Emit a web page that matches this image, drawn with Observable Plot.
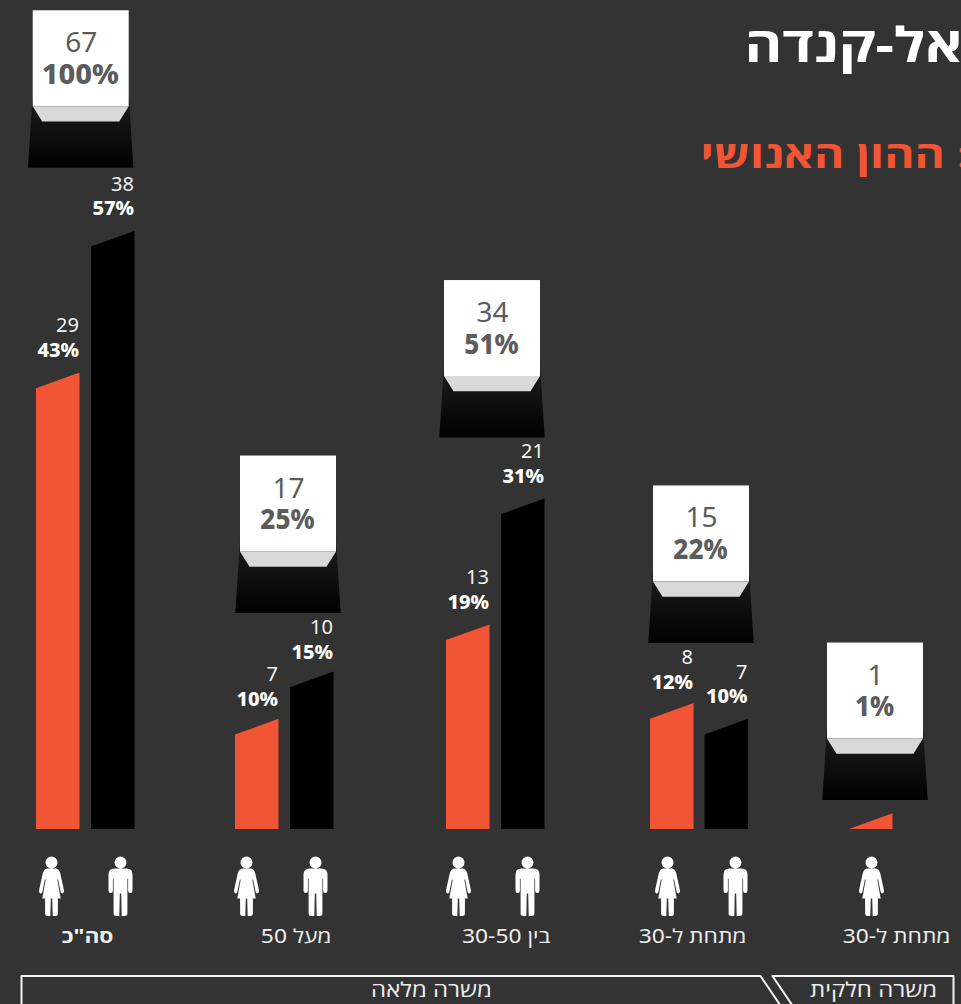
<!DOCTYPE html>
<html lang="he">
<head>
<meta charset="utf-8">
<script src="https://cdn.jsdelivr.net/npm/d3@7"></script>
<script src="https://cdn.jsdelivr.net/npm/@observablehq/plot@0.6"></script>
<style>
html,body{margin:0;padding:0;background:#333;overflow:hidden;width:961px;height:1004px}
</style>
</head>
<body>
<div id="chart"></div>
<script>
// ---------- values ----------
const groups = ['סה"כ', "מעל 50", "בין 30-50", "מתחת ל-30", "מתחת ל-30"];
const women = [29, 7, 13, 8, 1];
const womenPct = [43, 10, 19, 12, 1];
const men = [38, 10, 21, 7, null];
const menPct = [57, 15, 31, 10, null];
const totals = [67, 17, 34, 15, 1];
const totalsPct = [100, 25, 51, 22, 1];
const titleText = "ישראל-קנדה";
const subtitleText = ": ההון האנושי";
const employment = ["משרה מלאה", "משרה חלקית"];

// ---------- layout (in the x scale's units, and in value units for lifts) ----------
const boxCenter = [80.7, 288, 492, 701, 875];
const womanBarLeft = [36, 235, 446, 650, 849];
const manBarLeft = [91, 290, 501, 704.5, null];
const womanIcon = [51, 246, 458, 667, 871];
const manIcon = [120, 315, 527, 735, null];
const labelRight = [113, 331, 550, 746, 950];
const boxLift = [4.01, 3.72, 3.87, 3.82, 0.84];
const womanLabelShift = [0, 2.5, 0, 1.5, 0];
const manLabelShift = [0, 2.5, 0, 0, 0];

const W = 961, H = 1004;
const BASE = 829, UNIT = 15.74;           // baseline pixel, pixels per person
const u = (px) => px / UNIT;              // pixel length -> value units
const Y = (px) => (BASE - px) / UNIT;     // pixel row -> value units
const BAR = 43.5;
const HEBREW_STRETCH = 1.2;               // the reference's Hebrew face is wider than any installed one
const SUBTITLE_STRETCH = 1.25;
const BOX_PCT_SQUEEZE = 0.9;              // two-digit percentages in the boxes are set narrower

const ORANGE = "#f25535", BG = "#333333";
const FONT = '"Noto Sans", "Open Sans", sans-serif';

// ---------- derived tables ----------
const barRows = (vals, lefts) => vals.flatMap((v, i) => v == null ? [] : [
  {g: i, x: lefts[i], b: 0, v: v - 1},
  {g: i, x: lefts[i] + BAR, b: 0, v}
]);
const labelRows = (vals, pcts, lefts, shift) => vals.flatMap((v, i) => v == null || i === 4 ? [] : [{
  x: lefts[i] + BAR - 1, v: v - u(shift[i]), n: String(v), p: pcts[i] + "%"
}]);
const boxes = totals.map((t, i) => {
  const top = Math.max(women[i], men[i] ?? 0);
  return {c: boxCenter[i], bottom: top + boxLift[i], n: String(t), p: totalsPct[i] + "%"};
});
const trap = (topOff, botOff, topHalf, botHalf) => boxes.flatMap((b, g) => [
  {g, y: b.bottom + u(topOff), l: b.c - topHalf, r: b.c + topHalf},
  {g, y: b.bottom + u(botOff), l: b.c - botHalf, r: b.c + botHalf}
]);

// ---------- custom person symbols ----------
const person = (pts) => ({
  draw(ctx, size) {
    const s = Math.sqrt(size / Math.PI) / 30;
    ctx.moveTo(6 * s, -26 * s);
    ctx.arc(0, -26 * s, 6 * s, 0, 2 * Math.PI);
    ctx.closePath();
    pts(s, ctx);
    ctx.closePath();
  }
});
const mirror = (half) => (s, ctx) => {
  const cmd = (c, sign) => {
    if (c.length === 2) ctx.lineTo(sign * c[0] * s, c[1] * s);
    else ctx.quadraticCurveTo(sign * c[0] * s, c[1] * s, sign * c[2] * s, c[3] * s);
  };
  ctx.moveTo(half[0][0] * s, half[0][1] * s);
  half.slice(1).forEach((c) => cmd(c, 1));
  ctx.lineTo(-half[half.length - 1][0] * s, half[half.length - 1][1] * s);
  for (let i = half.length - 1; i > 0; i--) {
    const c = half[i], p = half[i - 1];
    const end = p.length === 2 ? p : [p[2], p[3]];
    if (c.length === 2) ctx.lineTo(-end[0] * s, end[1] * s);
    else ctx.quadraticCurveTo(-c[0] * s, c[1] * s, -end[0] * s, end[1] * s);
  }
};
const manSymbol = person(mirror([
  [0, -20], [6, -20], [12, -20, 12, -14], [12, 2], [12, 4.5, 9.7, 4.5], [7.6, 4.5, 7.6, 2],
  [7.6, -9.5], [6.9, -9.5], [6.9, 25], [6.9, 27.5, 4, 27.5], [1.2, 27.5], [0.7, 5], [0, 5]
]));
const womanSymbol = person(mirror([
  [0, -20], [3.5, -20], [7.5, -20, 8.8, -15], [12.3, 1], [13, 4.5, 10.8, 5], [9.4, 5.2, 9, 2.8],
  [6.6, -9], [5.8, -9], [9.2, 10], [6.4, 10], [6.4, 25], [6.4, 27.5, 4, 27.5], [1.2, 27.5], [0.7, 10], [0, 10]
]));

// ---------- gradient definition ----------
const gradient = () => {
  const defs = d3.create("svg:defs");
  const g = defs.append("linearGradient").attr("id", "shade").attr("x1", 0).attr("x2", 0).attr("y1", 0).attr("y2", 1);
  g.append("stop").attr("offset", "0%").attr("stop-color", "#1f1f1f");
  g.append("stop").attr("offset", "100%").attr("stop-color", "#000000");
  return defs.node();
};

const onlyDefined = (arr) => arr.map((x, i) => ({x, i})).filter((d) => d.x != null);
const textBase = {fontFamily: FONT, lineAnchor: "middle"};

const chart = Plot.plot({
  width: W, height: H,
  marginTop: 0, marginRight: 0, marginBottom: 0, marginLeft: 0,
  style: {background: BG, direction: "rtl", fontFamily: FONT, overflow: "hidden"},
  x: {domain: [0, W], range: [0, W], axis: null},
  y: {domain: [Y(H), Y(0)], range: [H, 0], axis: null},
  marks: [
    gradient,
    // titles
    Plot.text([titleText], {...textBase, text: (d) => d, x: () => 744, y: () => Y(46), textAnchor: "end",
      fontSize: 48, fontWeight: 700, fill: "#ffffff"}),
    Plot.text([subtitleText], {...textBase, text: (d) => d, x: () => 700, y: () => Y(156), textAnchor: "end",
      fontSize: 37, fontWeight: 700, fill: ORANGE}),
    // bars
    Plot.areaY(barRows(women, womanBarLeft), {x: "x", y1: "b", y2: "v", z: "g", fill: ORANGE, curve: "linear"}),
    Plot.areaY(barRows(men, manBarLeft), {x: "x", y1: "b", y2: "v", z: "g", fill: "#000000", curve: "linear"}),
    // bar labels
    ...[labelRows(women, womenPct, womanBarLeft, womanLabelShift), labelRows(men, menPct, manBarLeft, manLabelShift)].flatMap((rows) => [
      Plot.text(rows, {...textBase, x: "x", y: (d) => d.v + u(47), text: "n", textAnchor: "start", fontSize: 20, fill: "#f2f2f2"}),
      Plot.text(rows, {...textBase, x: "x", y: (d) => d.v + u(22.5), text: "p", textAnchor: "start", fontSize: 20, fontWeight: 800, fill: "#ffffff"})
    ]),
    // total boxes
    Plot.areaX(trap(74, 0, 48, 52.7), {y: "y", x1: "l", x2: "r", z: "g", fill: "url(#shade)", curve: "linear"}),
    Plot.rect(boxes, {x1: (d) => d.c - 48, x2: (d) => d.c + 48, y1: (d) => d.bottom + u(61.5), y2: (d) => d.bottom + u(157.5), fill: "#ffffff"}),
    Plot.areaX(trap(61.5, 46.3, 48, 38.5), {y: "y", x1: "l", x2: "r", z: "g", fill: "#d9d9d9", curve: "linear"}),
    Plot.text(boxes, {...textBase, x: "c", y: (d) => d.bottom + u(125), text: "n", textAnchor: "middle", fontSize: 28, fill: "#5c5c5c"}),
    Plot.text(boxes, {...textBase, x: (d) => d.c - 1, y: (d) => d.bottom + u(93.5), text: "p", textAnchor: "middle", fontSize: 29, fontWeight: 800, fill: "#5c5c5c"}),
    // people
    Plot.dot(onlyDefined(womanIcon), {x: "x", y: () => Y(888), r: 30, symbol: womanSymbol, fill: "#ffffff", stroke: "none"}),
    Plot.dot(onlyDefined(manIcon), {x: "x", y: () => Y(888), r: 30, symbol: manSymbol, fill: "#ffffff", stroke: "none"}),
    // category labels
    Plot.text(groups.map((t, i) => ({t, i})).filter((d) => d.i === 0), {...textBase, text: "t", x: (d) => labelRight[d.i], y: () => Y(936), textAnchor: "start",
      fontSize: 19, fontWeight: 700, fill: "#eeeeee"}),
    Plot.text(groups.map((t, i) => ({t, i})).filter((d) => d.i > 0), {...textBase, text: "t", x: (d) => labelRight[d.i], y: () => Y(936), textAnchor: "start",
      fontSize: 19, fill: "#eeeeee"}),
    // employment tabs
    Plot.line([{x: 21, p: H + 4}, {x: 21, p: 975.5}, {x: 760, p: 975.5}, {x: 782, p: H + 4}],
      {x: "x", y: (d) => Y(d.p), stroke: "#f2f2f2", strokeWidth: 2, curve: "linear"}),
    Plot.line([{x: 794, p: H + 4}, {x: 772, p: 975.5}, {x: 953, p: 975.5}, {x: 953, p: H + 4}],
      {x: "x", y: (d) => Y(d.p), stroke: "#f2f2f2", strokeWidth: 2, curve: "linear"}),
    Plot.text([employment[0]], {...textBase, text: (d) => d, x: () => 431, y: () => Y(990), textAnchor: "middle", fontSize: 20, fill: "#eeeeee"}),
    Plot.text([employment[1]], {...textBase, text: (d) => d, x: () => 873, y: () => Y(990), textAnchor: "middle", fontSize: 20, fill: "#eeeeee"})
  ]
});
document.getElementById("chart").append(chart);

// widen the Hebrew strings, glyphs included, to the reference's set width
chart.querySelectorAll("text").forEach((t) => {
  const s = t.textContent;
  let k = 1;
  if (/[\u0590-\u05FF]/.test(s)) k = s === subtitleText ? SUBTITLE_STRETCH : HEBREW_STRETCH;
  else if (/^\d\d?%$/.test(s) && t.parentNode.getAttribute("font-size") === "29") k = BOX_PCT_SQUEEZE;
  if (k !== 1) {
    t.setAttribute("lengthAdjust", "spacingAndGlyphs");
    t.setAttribute("textLength", t.getComputedTextLength() * k);
  }
});
</script>
</body>
</html>
